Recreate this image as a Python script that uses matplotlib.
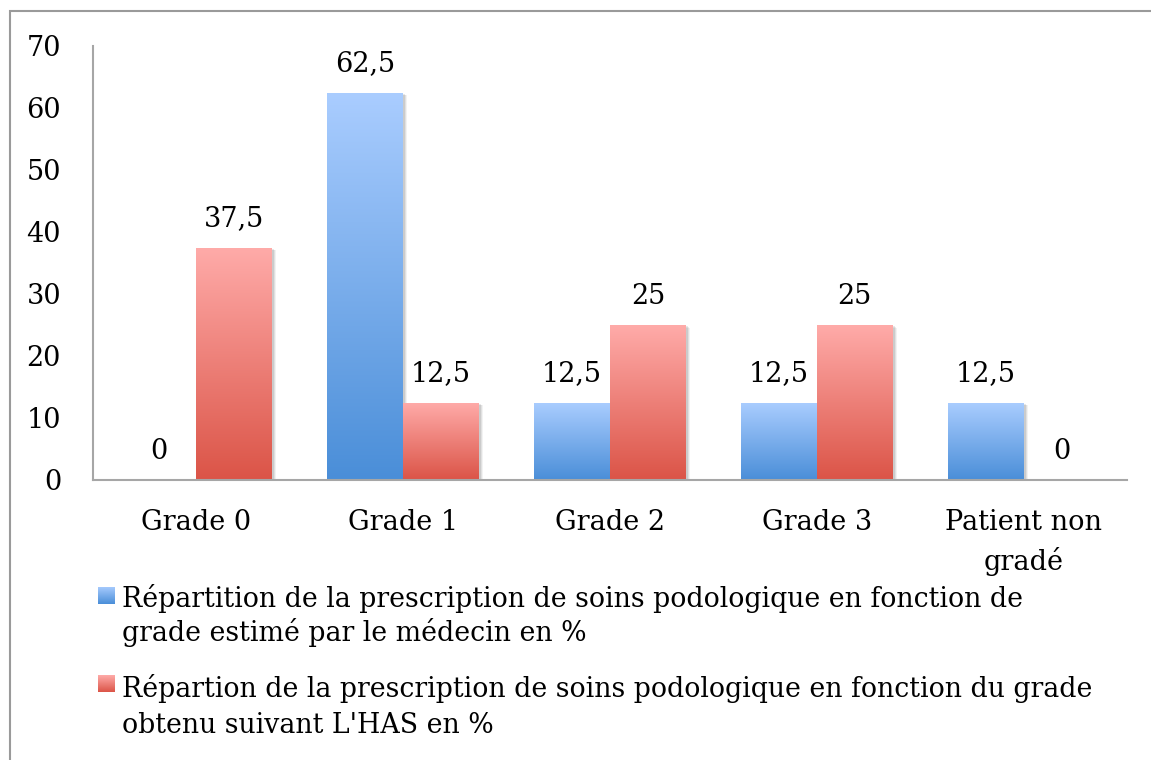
import numpy as np
from matplotlib import pyplot as plt
from matplotlib.colors import LinearSegmentedColormap
from matplotlib.patches import Rectangle
from matplotlib import transforms

categories = ["Grade 0", "Grade 1", "Grade 2", "Grade 3", "Patient non\ngradé"]
medecin = [0, 62.5, 12.5, 12.5, 12.5]
has = [37.5, 12.5, 25, 25, 0]
legend_lines = [
    ["Répartition de la prescription de soins podologique en fonction de",
     "grade estimé par le médecin en %"],
    ["Répartion de la prescription de soins podologique en fonction du grade",
     "obtenu suivant L'HAS en %"],
]

W, H = 1151, 760
plt.rcParams["font.family"] = ["DejaVu Serif"]
FS = 19.5

blue_cmap = LinearSegmentedColormap.from_list("blue", ["#aacdff", "#4a8ed8"])
red_cmap = LinearSegmentedColormap.from_list("red", ["#ffaba9", "#db5447"])
grad = np.linspace(0, 1, 256).reshape(-1, 1)


def px(x, y):
    # pixel coords (top-left origin) -> figure fraction
    return x / W, 1 - y / H


def gradient_bars(ax, bars, cmap):
    for b in bars:
        x0, y0 = b.get_x(), b.get_y()
        w, h = b.get_width(), b.get_height()
        if h <= 0:
            continue
        # soft drop shadow
        for k, a in [(4, 0.05), (3, 0.07), (2, 0.09)]:
            off = transforms.offset_copy(ax.transData, fig=ax.figure, x=k * 0.75, y=-k * 0.5, units="points")
            ax.add_patch(Rectangle((x0, y0), w, h, transform=off, fc="k", ec="none", alpha=a, zorder=1))
        im = ax.imshow(grad, extent=(x0, x0 + w, y0, y0 + h), cmap=cmap,
                       aspect="auto", zorder=2, interpolation="bilinear")
        im.set_clip_path(b)


fig = plt.figure(figsize=(W / 100, H / 100), dpi=100)
l, t = px(93, 46)
r, btm = px(1127, 480)
ax = fig.add_axes([l, btm, r - l, t - btm])

x = np.arange(len(categories))
w = 0.367
bars_b = ax.bar(x - w / 2, medecin, w, color="none", zorder=2)
bars_r = ax.bar(x + w / 2, has, w, color="none", zorder=2)
gradient_bars(ax, bars_b, blue_cmap)
gradient_bars(ax, bars_r, red_cmap)

fmt = lambda v: f"{v:g}".replace(".", ",")
ax.bar_label(bars_b, labels=[fmt(v) for v in medecin], padding=11, fontsize=FS)
ax.bar_label(bars_r, labels=[fmt(v) for v in has], padding=11, fontsize=FS)

ax.set_xlim(-0.5, len(categories) - 0.5)
ax.set_ylim(0, 70)
ax.set_yticks(range(0, 71, 10))
ax.set_xticks(x)
ax.set_xticklabels(categories, linespacing=1.45)
ax.tick_params(axis="y", length=0, pad=23, labelsize=FS)
ax.tick_params(axis="x", length=0, pad=21, labelsize=FS)
for s in ["top", "right"]:
    ax.spines[s].set_visible(False)
for s in ["left", "bottom"]:
    ax.spines[s].set_color("#a6a6a6")
    ax.spines[s].set_linewidth(1.5)

# chart frame
fx, fy = px(10, 11)
fig.add_artist(Rectangle((fx, -0.1), 2, fy + 0.1, transform=fig.transFigure,
                         fill=False, ec="#9a9a9a", lw=1.5))

# legend drawn by hand
for (lines, cmap, top, bases) in zip(legend_lines, [blue_cmap, red_cmap], [587, 675],
                                     [(607, 641), (697, 733)]):
    mx, my = px(98, top + 17)
    lax = fig.add_axes([mx, my, 17 / W, 17 / H])
    lax.imshow(grad, cmap=cmap, aspect="auto", interpolation="bilinear")
    lax.axis("off")
    for line, base in zip(lines, bases):
        tx, ty = px(122, base)
        fig.text(tx, ty, line, fontsize=19.3, va="baseline", ha="left")

fig.savefig("out.png", dpi=100)
